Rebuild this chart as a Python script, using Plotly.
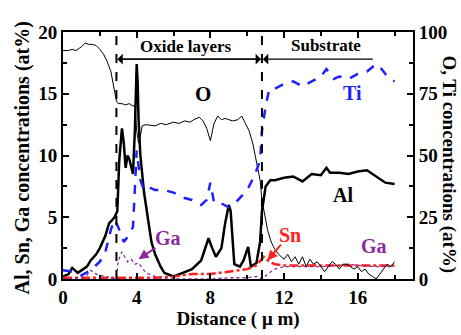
import plotly.graph_objects as go

# ---- data (left axis: Al, Sn, Ga ; right axis: O, Ti) ----
o_x = [0, 0.3, 0.5, 0.7, 1.0, 1.2, 1.4, 1.6, 1.8, 2.0, 2.2, 2.4, 2.6, 2.7, 2.8, 2.9, 3.0, 3.2, 3.4, 3.6, 3.8, 3.9,
       4.0, 4.1, 4.2, 4.3, 4.5, 5.0, 5.3, 5.6, 6.0, 6.3, 6.6, 6.9, 7.1, 7.4, 7.6, 7.8, 8.0, 8.2, 8.4, 8.6, 8.8,
       9.2, 9.5, 9.7, 9.9, 10.1, 10.3, 10.5, 10.7, 10.8, 10.9, 11.1, 11.3, 11.5, 11.7, 12.0, 12.2, 12.4, 12.6,
       12.8, 13.0, 13.2, 13.4, 13.6, 13.8, 14.0, 14.2, 14.4, 14.6, 14.8, 15.0, 15.2, 15.4, 15.6, 15.8, 16.0,
       16.2, 16.4, 16.6, 16.8, 17.0, 17.2, 17.4, 17.6, 17.8, 18.0]
o_y = [92.5, 92.5, 93, 92.5, 94, 95.5, 95, 95, 94.5, 93, 91, 88, 84, 80, 75, 72, 71, 71, 70.5, 71, 70, 70.5,
       60, 55, 58, 62, 62.5, 62, 63, 62.5, 63.5, 63, 64, 63.5, 64.5, 65.5, 64, 61, 56, 63, 66, 64.5, 65,
       64, 64.5, 66, 63, 60, 55, 48, 40, 32, 28, 20, 15, 12, 10, 8, 10, 7, 9,
       6, 9, 5, 8, 6, 7, 5, 3, 5, 7, 6, 4, 6, 6, 5, 4, 5,
       3, 4, 2, 1, 0, 2, 4, 6, 5, 7]

ti_x = [0, 0.5, 1.0, 1.5, 2.0, 2.3, 2.6, 2.8, 3.0, 3.3, 3.5, 3.8, 4.0, 4.2, 4.4, 4.7, 5.0, 5.5, 6.0, 6.5,
        7.0, 7.5, 7.8, 8.0, 8.2, 8.5, 9.0, 9.5, 10.0, 10.4, 10.7, 10.8, 11.0, 11.2, 11.5, 12.0, 12.5, 13.0,
        13.5, 14.0, 14.3, 14.7, 15.0, 15.5, 16.0, 16.5, 17.0, 17.3, 17.6, 18.0]
ti_y = [3.5, 3, 1.5, 3.5, 7, 11, 20, 24, 21, 15, 17, 21, 52, 40, 36, 37, 36, 36, 35, 33,
        32, 30, 32, 39, 31, 31, 29, 32, 36, 42, 48, 60, 70, 77, 77, 79, 80, 78,
        80, 82, 85, 81, 82, 81, 83, 84, 87, 85, 82, 80]

al_x = [0, 0.3, 0.5, 0.8, 1.0, 1.3, 1.5, 1.8, 2.0, 2.3, 2.5, 2.8, 2.95, 3.05, 3.2, 3.3, 3.4, 3.5, 3.6, 3.7,
        3.8, 3.9, 4.0, 4.05, 4.1, 4.2, 4.4, 4.6, 4.8, 5.0, 5.3, 5.5, 6.0, 6.5, 7.0, 7.5, 7.9, 8.1, 8.3, 8.6,
        8.8, 9.0, 9.1, 9.3, 9.6, 9.8, 10.05, 10.2, 10.5, 10.7, 10.8, 10.9, 11.0, 11.25, 11.5, 12.0, 12.5,
        13.0, 13.5, 14.0, 14.3, 14.5, 15.0, 15.5, 16.0, 16.5, 17.0, 17.5, 18.0]
al_y = [0.2, 0.4, 0.9, 0.5, 0.7, 1.0, 1.5, 2.0, 2.5, 3.5, 4.5, 5.0, 5.5, 9.5, 12.2, 11.0, 9.0, 10.0, 9.7, 9.0,
        8.5, 12.0, 17.4, 16.0, 13.0, 10.0, 7.0, 5.0, 3.0, 2.0, 1.0, 0.5, 0.2, 0.5, 0.8, 1.5, 3.3, 2.5, 1.8, 2.5,
        4.5, 6.0, 5.5, 1.2, 1.0, 1.5, 2.6, 1.0, 1.3, 3.0, 5.5, 6.5, 7.5, 8.0, 8.0, 8.2, 8.3,
        7.9, 8.5, 8.4, 9.0, 8.6, 8.6, 8.5, 8.7, 8.8, 8.3, 7.8, 7.7]

sn_x = [0, 1, 2, 3, 4, 5, 6, 7, 8, 9, 10, 10.5, 10.7, 10.9, 11.2, 11.5, 12, 13, 14, 15, 16, 17, 18]
sn_y = [0.1, 0.1, 0.1, 0.1, 0.1, 0.1, 0.2, 0.4, 0.4, 0.6, 0.8, 1.1, 1.5, 1.8, 1.4, 1.2, 1.1, 1.1, 1.1, 1.1, 1.1, 1.1, 1.1]

ga_x = [0, 0.5, 1.0, 1.3, 1.5, 1.8, 2.0, 2.5, 2.9, 3.0, 3.2, 3.5, 3.7, 3.9, 4.1, 4.5, 5.0, 5.5, 6, 7, 8,
        9, 10, 10.5, 10.8, 11.2, 11.5, 12, 13, 14, 15, 15.5, 16, 17, 18]
ga_y = [0, 0, 0.1, 0.3, 0.7, 0.4, 0.3, 0.1, 0, 1.5, 2.2, 1.4, 1.6, 1.2, 1.3, 0.5, 0.2, 0, 0, 0, 0,
        0.1, 0.1, 0.2, 0, 0.5, 0.8, 1.0, 1.0, 1.0, 1.1, 1.2, 1.1, 1.0, 1.0]

x_ticks = [0, 4, 8, 12, 16]
left_ticks = [0, 5, 10, 15, 20]
right_ticks = [0, 25, 50, 75, 100]
boundaries = [2.9, 10.8]

FONT = "Liberation Serif"
BLUE = "#1f1fff"
RED = "#ff2020"
PURPLE = "#8b2a9b"

W, H = 461, 335
ML, MR, MT, MB = 63, 48, 32, 53

fig = go.Figure()
fig.add_trace(go.Scatter(x=o_x, y=o_y, yaxis="y2", mode="lines",
                         line=dict(color="black", width=1)))
fig.add_trace(go.Scatter(x=ti_x, y=ti_y, yaxis="y2", mode="lines",
                         line=dict(color=BLUE, width=2.5, dash="dash")))
fig.add_trace(go.Scatter(x=al_x, y=al_y, mode="lines",
                         line=dict(color="black", width=2.5)))
fig.add_trace(go.Scatter(x=sn_x, y=sn_y, mode="lines",
                         line=dict(color=RED, width=2.5, dash="dashdot")))
fig.add_trace(go.Scatter(x=ga_x, y=ga_y, mode="lines",
                         line=dict(color=PURPLE, width=1.3, dash="dot")))

for b in boundaries:
    fig.add_shape(type="line", x0=b, x1=b, y0=0, y1=20, xref="x", yref="y",
                  line=dict(color="black", width=2, dash="dash"))

def arrow(x0, x1, y):
    fig.add_annotation(x=x1, y=y, ax=x0, ay=y, xref="x", yref="y", axref="x", ayref="y",
                       showarrow=True, arrowhead=1, arrowsize=1.5, arrowwidth=1.2,
                       arrowcolor="black", text="")

arrow(boundaries[1], boundaries[0] + 0.05, 17.8)
arrow(boundaries[0], boundaries[1] - 0.05, 17.8)
arrow(16.9, boundaries[1] + 0.05, 17.8)

def label(x, y, text, color="black", size=16):
    fig.add_annotation(x=x, y=y, xref="x", yref="y", text="<b>%s</b>" % text, showarrow=False,
                       font=dict(family=FONT, size=size, color=color))

label(6.7, 18.8, "Oxide layers", size=17)
label(14.3, 18.9, "Substrate", size=17)
label(7.6, 15.0, "O", size=21)
label(15.7, 15.1, "Ti", BLUE, 20)
label(15.2, 6.8, "Al", size=20)
label(5.7, 3.3, "Ga", PURPLE, 20)
label(12.3, 3.6, "Sn", RED, 20)
label(16.9, 2.7, "Ga", PURPLE, 20)

# pointer arrows
fig.add_annotation(x=4.1, y=1.6, ax=5.1, ay=2.6, xref="x", yref="y", axref="x", ayref="y",
                   showarrow=True, arrowhead=2, arrowsize=1, arrowwidth=2, arrowcolor=PURPLE, text="")
fig.add_annotation(x=11.1, y=1.5, ax=11.9, ay=2.9, xref="x", yref="y", axref="x", ayref="y",
                   showarrow=True, arrowhead=2, arrowsize=1, arrowwidth=2, arrowcolor=RED, text="")

def px_to_paper(px, py):
    return (px - ML) / (W - ML - MR), 1 - (py - MT) / (H - MT - MB)

# axis titles
lx, ly = px_to_paper(22, 160)
fig.add_annotation(x=lx, y=ly, xref="paper", yref="paper", showarrow=False, textangle=-90,
                   xanchor="center", yanchor="middle",
                   text="<b>Al, Sn, Ga concentrations (at%)</b>",
                   font=dict(family=FONT, size=20, color="black"))
rx, ry = px_to_paper(449, 166)
fig.add_annotation(x=rx, y=ry, xref="paper", yref="paper", showarrow=False, textangle=90,
                   xanchor="center", yanchor="middle",
                   text="<b>O, Ti concentrations (at%)</b>",
                   font=dict(family=FONT, size=19, color="black"))

axis_common = dict(showgrid=False, zeroline=False, ticks="inside", ticklen=6, tickwidth=1.5,
                   tickcolor="black", linecolor="black", linewidth=2,
                   tickfont=dict(family=FONT, size=19, color="black"))

fig.update_layout(
    width=W, height=H,
    margin=dict(l=ML, r=MR, t=MT, b=MB),
    paper_bgcolor="white", plot_bgcolor="white",
    showlegend=False,
    xaxis=dict(range=[0, 19], tickvals=x_ticks, ticktext=["<b>%d</b>" % v for v in x_ticks],
               mirror="ticks", showline=True, ticklabelstandoff=0,
               minor=dict(dtick=2, ticks="inside", ticklen=4, tickcolor="black"),
               title=dict(text="<b>Distance ( \u03bc m)</b>", font=dict(family=FONT, size=19, color="black"),
                          standoff=2),
               **axis_common),
    yaxis=dict(range=[0, 20], tickvals=left_ticks, ticktext=["<b>%d</b>" % v for v in left_ticks],
               showline=True,
               minor=dict(dtick=2.5, ticks="inside", ticklen=4, tickcolor="black"),
               **axis_common),
    yaxis2=dict(range=[0, 100], tickvals=right_ticks, ticktext=["<b>%d</b>" % v for v in right_ticks],
                overlaying="y", side="right", showline=True,
                minor=dict(dtick=12.5, ticks="inside", ticklen=4, tickcolor="black"),
                **axis_common),
)

fig.write_html("out.html")
